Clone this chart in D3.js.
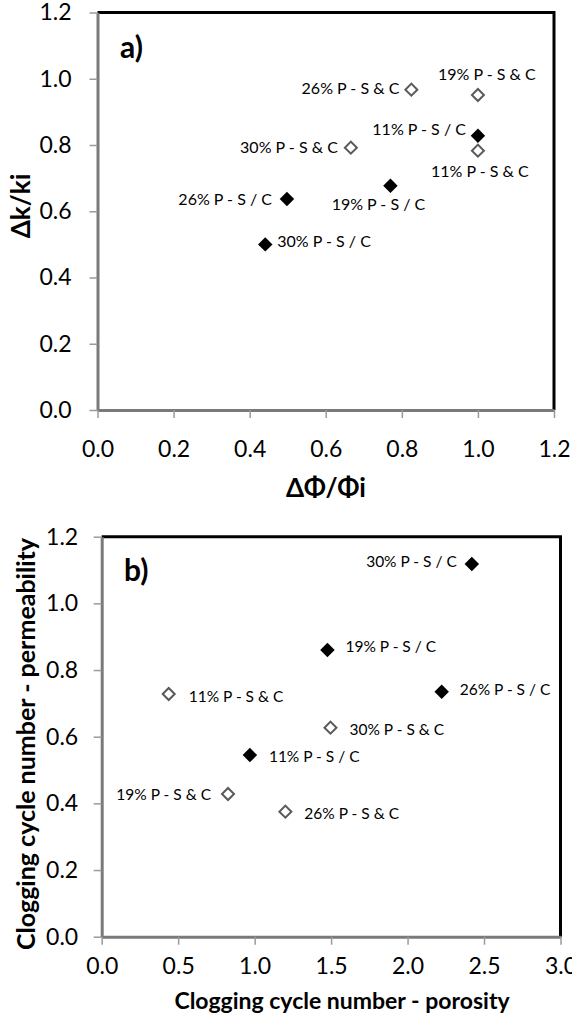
<!DOCTYPE html>
<meta charset="utf-8">
<style>
  body{
    margin: 0;
    background: #fff;
  }
  text{
    font-family: Lato, "Open Sans", sans-serif;
    fill: #000;
  }
</style>

<svg width="572" height="1020"></svg>

<script src="https://d3js.org/d3.v7.min.js"></script>
<script>
  // panel a) data
  const aLabels = ['26% P - S & C', '19% P - S & C', '11% P - S / C', '11% P - S & C',
                   '30% P - S & C', '19% P - S / C', '26% P - S / C', '30% P - S / C']
  const aX = [0.825, 1.0, 1.0, 1.0, 0.666, 0.770, 0.498, 0.441]
  const aY = [0.967, 0.951, 0.828, 0.783, 0.792, 0.677, 0.637, 0.500]
  const aFilled = [false, false, true, false, false, true, true, true]
  const aXTicks = [0, 0.2, 0.4, 0.6, 0.8, 1.0, 1.2]
  const aYTicks = [0, 0.2, 0.4, 0.6, 0.8, 1.0, 1.2]

  // panel b) data
  const bLabels = ['30% P - S / C', '19% P - S / C', '26% P - S / C', '11% P - S & C',
                   '30% P - S & C', '11% P - S / C', '19% P - S & C', '26% P - S & C']
  const bX = [2.42, 1.476, 2.223, 0.438, 1.496, 0.969, 0.826, 1.201]
  const bY = [1.118, 0.860, 0.735, 0.728, 0.627, 0.545, 0.428, 0.375]
  const bFilled = [true, true, true, false, false, true, false, false]
  const bXTicks = [0, 0.5, 1.0, 1.5, 2.0, 2.5, 3.0]
  const bYTicks = [0, 0.2, 0.4, 0.6, 0.8, 1.0, 1.2]

  // where each point label sits: [anchor, dx, dy]
  const aPlace = [['end', -12, -1], ['middle', 9, -21], ['end', -12, -6], ['middle', 2, 21],
                  ['end', -13, 0], ['middle', -12, 19], ['end', -15, 0], ['start', 12, -3]]
  const bPlace = [['end', -15, -2], ['start', 18, -3], ['start', 18, -2], ['start', 20, 3],
                  ['start', 19, 2], ['start', 19, 2], ['end', -17, 1], ['start', 19, 2]]

  const svg = d3.select('svg')

  function drawPanel(p){
    let xScale = d3
    .scaleLinear()
    .domain([p.xTicks[0], p.xTicks[p.xTicks.length-1]])
    .range([p.left, p.right])
    let yScale = d3
    .scaleLinear()
    .domain([p.yTicks[0], p.yTicks[p.yTicks.length-1]])
    .range([p.bottom, p.top])

    let g = svg.append('g')

    // black frame (top + right)
    g.append('path')
    .attr('d', 'M'+p.left+','+p.top+'H'+p.right+'V'+p.bottom)
    .attr('fill', 'none')
    .attr('stroke', '#000')
    .attr('stroke-width', 3)

    let xAxis = d3.axisBottom(xScale)
    .tickValues(p.xTicks)
    .tickFormat(d3.format('.1f'))
    .tickSize(8)
    .tickSizeOuter(0)
    .tickPadding(p.xPad)
    let yAxis = d3.axisLeft(yScale)
    .tickValues(p.yTicks)
    .tickFormat(d3.format('.1f'))
    .tickSize(8)
    .tickSizeOuter(0)
    .tickPadding(p.yPad)

    let gx = g.append('g')
    .attr('transform', 'translate(0,'+p.bottom+')')
    .call(xAxis)
    let gy = g.append('g')
    .attr('transform', 'translate('+p.left+',0)')
    .call(yAxis)

    for(let a of [gx, gy]){
      a.select('.domain').attr('stroke', '#7a7a7a').attr('stroke-width', 3)
      a.selectAll('.tick line').attr('stroke', '#9a9a9a').attr('stroke-width', 1.5)
      a.selectAll('.tick text')
      .attr('fill', '#000')
      .style('font-size', '23px')
      .style('font-family', 'Lato, sans-serif')
    }

    // markers
    let diamond = d3.symbol().type(d3.symbolSquare)
    g.selectAll('path.pt')
    .data(p.x)
    .enter()
    .append('path')
    .attr('class', 'pt')
    .attr('d', (d, i)=>diamond.size(p.filled[i] ? 105 : 72)())
    .attr('transform', (d, i)=>'translate('+xScale(d)+','+yScale(p.y[i])+') rotate(45)')
    .attr('fill', (d, i)=>p.filled[i] ? '#000' : '#fff')
    .attr('stroke', (d, i)=>p.filled[i] ? 'none' : '#5a5a5a')
    .attr('stroke-width', 2)

    // point labels
    g.selectAll('text.lbl')
    .data(p.labels)
    .enter()
    .append('text')
    .attr('class', 'lbl')
    .text(d=>d)
    .attr('x', (d, i)=>xScale(p.x[i]) + p.place[i][1])
    .attr('y', (d, i)=>yScale(p.y[i]) + p.place[i][2])
    .attr('dy', '0.35em')
    .attr('text-anchor', (d, i)=>p.place[i][0])
    .style('font-size', p.labelSize+'px')

    // panel letter
    g.append('text')
    .text(p.letter)
    .attr('x', p.letterX)
    .attr('y', p.letterY)
    .style('font-size', '30px')
    .style('font-weight', 'bold')

    // axis titles
    g.append('text')
    .text(p.xTitle)
    .attr('x', p.xTitleX)
    .attr('y', p.xTitleY)
    .attr('text-anchor', 'middle')
    .style('font-size', p.xTitleSize+'px')
    .style('font-weight', 'bold')

    g.append('text')
    .text(p.yTitle)
    .attr('transform', 'translate('+p.yTitleX+','+p.yTitleY+') rotate(-90)')
    .attr('text-anchor', 'middle')
    .style('font-size', p.yTitleSize+'px')
    .style('font-weight', 'bold')
  }

  drawPanel({
    labels: aLabels, x: aX, y: aY, filled: aFilled, place: aPlace,
    xTicks: aXTicks, yTicks: aYTicks,
    left: 97.5, right: 554, top: 12.5, bottom: 410,
    xPad: 23, yPad: 18, labelSize: 16,
    letter: 'a)', letterX: 120, letterY: 58,
    xTitle: 'ΔΦ/Φi', xTitleX: 326, xTitleY: 497, xTitleSize: 26,
    yTitle: 'Δk/ki', yTitleX: 30, yTitleY: 206, yTitleSize: 26
  })

  drawPanel({
    labels: bLabels, x: bX, y: bY, filled: bFilled, place: bPlace,
    xTicks: bXTicks, yTicks: bYTicks,
    left: 101.7, right: 560.5, top: 536.7, bottom: 936.7,
    xPad: 13, yPad: 15.5, labelSize: 15.5,
    letter: 'b)', letterX: 124, letterY: 581,
    xTitle: 'Clogging cycle number - porosity', xTitleX: 342, xTitleY: 1009, xTitleSize: 23,
    yTitle: 'Clogging cycle number - permeability', yTitleX: 35, yTitleY: 744, yTitleSize: 25
  })

</script>
